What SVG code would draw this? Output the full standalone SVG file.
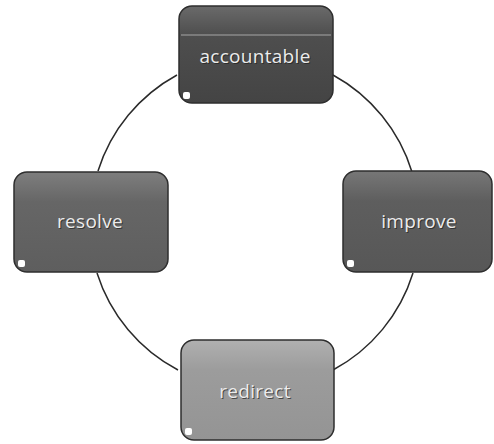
<svg xmlns="http://www.w3.org/2000/svg" width="494" height="444" viewBox="0 0 494 444">
<style>
.box{stroke:#2e2e2e;stroke-width:1.5}
.lbl{font-family:"Open Sans","Noto Sans",sans-serif;font-size:19px;fill:#ececec;text-anchor:middle;letter-spacing:0.3px}
.shadow{fill:#222;opacity:0.7}
.hl{fill:#ffffff}
.conn{fill:none;stroke:#2a2a2a;stroke-width:1.5}
</style>
<defs>
<linearGradient id="gTop" x1="0" y1="0" x2="0" y2="1">
<stop offset="0" stop-color="#6a6a6a"/><stop offset="0.3" stop-color="#4e4e4e"/><stop offset="1" stop-color="#444"/>
</linearGradient>
<linearGradient id="gMid" x1="0" y1="0" x2="0" y2="1">
<stop offset="0" stop-color="#7e7e7e"/><stop offset="0.3" stop-color="#666"/><stop offset="1" stop-color="#5e5e5e"/>
</linearGradient>
<linearGradient id="gRight" x1="0" y1="0" x2="0" y2="1">
<stop offset="0" stop-color="#777"/><stop offset="0.3" stop-color="#5e5e5e"/><stop offset="1" stop-color="#575757"/>
</linearGradient>
<linearGradient id="gBot" x1="0" y1="0" x2="0" y2="1">
<stop offset="0" stop-color="#b0b0b0"/><stop offset="0.3" stop-color="#9c9c9c"/><stop offset="1" stop-color="#949494"/>
</linearGradient>
</defs>
<rect width="494" height="444" fill="#ffffff"/>
<g id="connectors">
<path class="conn" d="M177 75 A166 166 0 0 0 98 171"/>
<path class="conn" d="M333 75 A166 166 0 0 1 412 172"/>
<path class="conn" d="M97 273 A166 166 0 0 0 178 370"/>
<path class="conn" d="M413 273 A166 166 0 0 1 333 370"/>
</g>
<g id="node-accountable">
<rect class="box" x="179" y="6" width="154" height="97" rx="13" fill="url(#gTop)"/>
<line x1="181" y1="35" x2="331" y2="35" stroke="#8a8a8a" stroke-width="1.5"/>
<rect class="hl" x="183" y="92" width="7" height="7" rx="2"/>
<text class="lbl shadow" x="256" y="64">accountable</text>
<text class="lbl" x="255" y="63">accountable</text>
</g>
<g id="node-resolve">
<rect class="box" x="14" y="172" width="154" height="100" rx="13" fill="url(#gMid)"/>
<rect class="hl" x="18" y="260" width="7" height="7" rx="2"/>
<text class="lbl shadow" x="91" y="229">resolve</text>
<text class="lbl" x="90" y="228">resolve</text>
</g>
<g id="node-improve">
<rect class="box" x="343" y="171" width="149" height="101" rx="13" fill="url(#gRight)"/>
<rect class="hl" x="347" y="260" width="7" height="7" rx="2"/>
<text class="lbl shadow" x="420" y="229">improve</text>
<text class="lbl" x="419" y="228">improve</text>
</g>
<g id="node-redirect">
<rect class="box" x="181" y="340" width="153" height="100" rx="13" fill="url(#gBot)"/>
<rect class="hl" x="185" y="428" width="7" height="7" rx="2"/>
<text class="lbl shadow" x="256" y="399">redirect</text>
<text class="lbl" x="255" y="398">redirect</text>
</g>
</svg>
